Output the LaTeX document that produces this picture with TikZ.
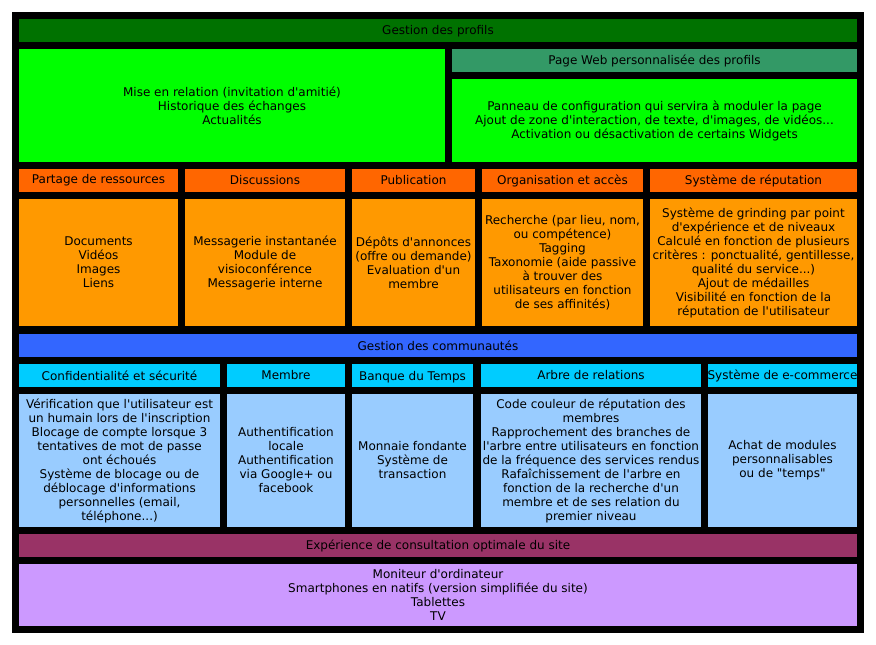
\documentclass[tikz,border=0pt]{standalone}
\usepackage{fontspec}
\newfontfamily\dvsans{DejaVu Sans}
\definecolor{cProfil}{RGB}{0,114,0}
\definecolor{cGreen}{RGB}{0,255,0}
\definecolor{cWeb}{RGB}{51,153,102}
\definecolor{cOrH}{RGB}{255,102,0}
\definecolor{cOrB}{RGB}{255,153,0}
\definecolor{cBlue}{RGB}{51,102,255}
\definecolor{cCyan}{RGB}{0,204,255}
\definecolor{cLBlue}{RGB}{153,204,255}
\definecolor{cExp}{RGB}{153,51,102}
\definecolor{cViolet}{RGB}{204,153,255}
\tikzset{cell/.style={rectangle, inner sep=0pt, align=center, text=black,
  font=\dvsans\fontsize{12}{14}\selectfont}}
\newcommand\bx[7]{%
  \node[cell, fill=#6, minimum width={(#4-#2)*1pt}, minimum height={(#5-#3)*1pt}]
    (#1) at ({(#2+#4)/2},{(#3+#5)/2}) {#7};}
\begin{document}
\begin{tikzpicture}[x=1pt,y=-1pt]
\useasboundingbox (0,0) rectangle (876,645);
\fill[black] (12,12) rectangle (864,633);
% profils
\bx{profils}{19}{19}{857}{42}{cProfil}{\raisebox{-1pt}[\height][\depth]{Gestion des profils}}
\bx{relation}{19}{49}{445}{162}{cGreen}{Mise en relation (invitation d'amitié)\\Historique des échanges\\Actualités}
\bx{web}{452}{49}{857}{72}{cWeb}{Page Web personnalisée des profils}
\bx{panneau}{452}{79}{857}{162}{cGreen}{Panneau de configuration qui servira à moduler la page\\Ajout de zone d'interaction, de texte, d'images, de vidéos...\\Activation ou désactivation de certains Widgets}
% orange
\bx{partH}{19}{169}{178}{192}{cOrH}{Partage de ressources}
\bx{discH}{185}{169}{345}{192}{cOrH}{Discussions}
\bx{pubH}{352}{169}{475}{192}{cOrH}{Publication}
\bx{orgH}{482}{169}{643}{192}{cOrH}{Organisation et accès}
\bx{repH}{650}{169}{857}{192}{cOrH}{Système de réputation}
\bx{partB}{19}{199}{178}{326}{cOrB}{Documents\\Vidéos\\Images\\Liens}
\bx{discB}{185}{199}{345}{326}{cOrB}{Messagerie instantanée\\Module de\\visioconférence\\Messagerie interne}
\bx{pubB}{352}{199}{475}{326}{cOrB}{Dépôts d'annonces\\(offre ou demande)\\Evaluation d'un\\membre}
\bx{orgB}{482}{199}{643}{326}{cOrB}{Recherche (par lieu, nom,\\ou compétence)\\Tagging\\Taxonomie (aide passive\\à trouver des\\utilisateurs en fonction\\de ses affinités)}
\bx{repB}{650}{199}{857}{326}{cOrB}{Système de grinding par point\\d'expérience et de niveaux\\Calculé en fonction de plusieurs\\critères : ponctualité, gentillesse,\\qualité du service...)\\Ajout de médailles\\Visibilité en fonction de la\\réputation de l'utilisateur}
% communautes
\bx{commu}{19}{334}{857}{357}{cBlue}{Gestion des communautés}
\bx{confH}{19}{364}{220}{387}{cCyan}{Confidentialité et sécurité}
\bx{membH}{227}{364}{345}{387}{cCyan}{Membre}
\bx{bankH}{352}{364}{473}{387}{cCyan}{\raisebox{-2pt}[\height][\depth]{Banque du Temps}}
\bx{arbH}{481}{364}{701}{387}{cCyan}{Arbre de relations}
\bx{ecoH}{708}{364}{857}{387}{cCyan}{Système de e-commerce}
\bx{confB}{19}{394}{220}{527}{cLBlue}{Vérification que l'utilisateur est\\un humain lors de l'inscription\\Blocage de compte lorsque 3\\tentatives de mot de passe\\ont échoués\\Système de blocage ou de\\déblocage d'informations\\personnelles (email,\\téléphone...)}
\bx{membB}{227}{394}{345}{527}{cLBlue}{Authentification\\locale\\Authentification\\via Google+ ou\\facebook}
\bx{bankB}{352}{394}{473}{527}{cLBlue}{Monnaie fondante\\Système de\\transaction}
\bx{arbB}{481}{394}{701}{527}{cLBlue}{Code couleur de réputation des\\membres\\Rapprochement des branches de\\l'arbre entre utilisateurs en fonction\\de la fréquence des services rendus\\Rafaîchissement de l'arbre en\\fonction de la recherche d'un\\membre et de ses relation du\\premier niveau}
\bx{ecoB}{708}{394}{857}{527}{cLBlue}{Achat de modules\\personnalisables\\ou de "temps"}
% experience
\bx{exp}{19}{534}{857}{557}{cExp}{Expérience de consultation optimale du site}
\bx{devices}{19}{564}{857}{626}{cViolet}{Moniteur d'ordinateur\\Smartphones en natifs (version simplifiée du site)\\Tablettes\\TV}
\end{tikzpicture}
\end{document}
